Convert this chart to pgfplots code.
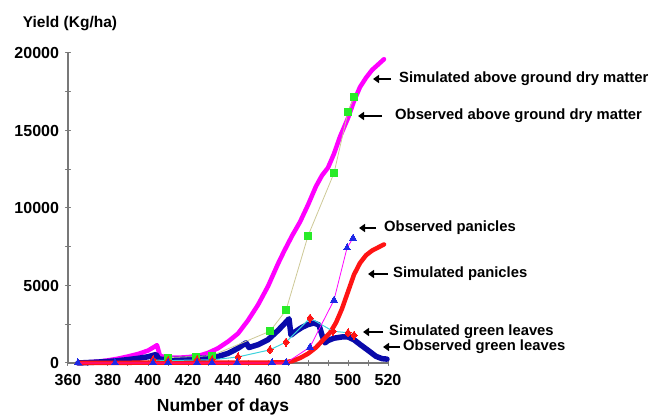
\documentclass[border=0pt]{standalone}
\usepackage{fontspec}
\setmainfont{Liberation Sans}
\usepackage{pgfplots}
\pgfplotsset{compat=1.18}
\usetikzlibrary{arrows.meta}

\definecolor{simdm}{RGB}{255,0,255}
\definecolor{obsdm}{RGB}{40,235,40}
\definecolor{tanline}{RGB}{205,200,150}
\definecolor{simleaf}{RGB}{10,10,170}
\definecolor{obspan}{RGB}{30,40,230}
\definecolor{simpan}{RGB}{255,20,20}
\definecolor{cyanline}{RGB}{60,210,220}
\definecolor{axgray}{RGB}{120,120,120}

\newcommand{\annot}{\bfseries\fontsize{14.8}{16}\selectfont}
\tikzset{lblarrow/.style={line width=2.4pt,-{Triangle[length=6pt,width=8pt]}}}

\begin{document}
\begin{tikzpicture}
\begin{axis}[
  at={(68pt,52pt)}, anchor=south west,
  scale only axis, width=320pt, height=310pt,
  xmin=360, xmax=520, ymin=0, ymax=20000,
  axis lines=left,
  axis line style={-, axgray, line width=1.3pt},
  xtick={360,380,...,520}, minor x tick num=1,
  ytick={0,5000,...,20000}, minor y tick num=1,
  tick align=center, major tick length=5pt, minor tick length=5pt,
  tick style={axgray, line width=1pt},
  scaled y ticks=false,
  /pgf/number format/assume math mode=true,
  /pgf/number format/set thousands separator={},
  tick label style={font=\bfseries\fontsize{16}{17}\selectfont},
  xticklabel style={yshift=-5pt},
  yticklabel style={xshift=-3pt},
  clip=false,
  line join=round, line cap=round,
]
% Simulated above ground dry matter
\addplot[simdm, line width=4.5pt, no marks] coordinates {
 (365,0) (370,40) (375,90) (380,170) (385,280) (390,420) (395,580) (400,800)
 (404.5,1150) (406,450) (410,350) (415,340) (420,380) (425,450) (430,650)
 (435,950) (440,1380) (445,1900) (450,2750) (455,3750) (460,4950) (465,6400)
 (468,7200) (472,8200) (476,9100) (480,10200) (484,11400) (487,12100)
 (490,12600) (493,13500) (496,14600) (500,15800) (503,16900) (506,17800)
 (509,18400) (512,18900) (515,19250) (518,19600)};
% Simulated green leaves
\addplot[simleaf, line width=5.5pt, no marks] coordinates {
 (365,0) (370,30) (375,60) (380,100) (385,150) (390,220) (395,300) (400,400)
 (404,550) (405.5,250) (410,220) (415,230) (420,260) (425,300) (430,330)
 (435,420) (440,620) (445,950) (449,1300) (450.5,1000) (455,1180) (460,1500)
 (465,2100) (468,2500) (470.5,2850) (471.5,1800) (474,2050) (477,2300)
 (480,2480) (483,2580) (485.5,2450) (487,1800) (488.5,1300) (490,1450)
 (493,1600) (497,1680) (500,1680) (503,1500) (506,1200) (510,820) (514,430)
 (517,280) (519.5,250)};
% Simulated panicles
\addplot[simpan, line width=4.5pt, no marks] coordinates {
 (365,0) (380,10) (400,20) (420,20) (440,20) (460,30) (468,40) (472,120)
 (476,320) (480,600) (484,1000) (488,1550) (491,1950) (494,2600) (497,3500)
 (500,4600) (503,5700) (506,6450) (509,6950) (512,7250) (515,7450) (518,7650)};
% Observed above ground dry matter
\addplot[tanline, line width=0.8pt, mark=square*,
  mark options={obsdm, draw=obsdm, line width=0pt}, mark size=3.3pt] coordinates {
 (410,350) (424,420) (432,480) (461,2050) (469,3400) (480,8200) (493,12250)
 (500,16200) (503,17150)};
% Observed green leaves
\addplot[cyanline, line width=1pt, mark=diamond*,
  mark options={simpan, draw=simpan, line width=0pt}, mark size=4pt] coordinates {
 (402.5,200) (410,150) (424.5,200) (432,200) (445,390) (461,850) (469,1350)
 (481,2900) (492.5,2050) (500,1950) (503,1800)};
% Observed panicles
\addplot[simdm, line width=0.8pt, mark=triangle*,
  mark options={obspan, draw=obspan, line width=0pt}, mark size=4pt] coordinates {
 (365,0) (383.5,0) (402.5,0) (410,0) (424.5,0) (432,0) (444.5,0) (462,0)
 (469,0) (481,1030) (493,4060) (499.5,7420) (502.5,8060)};
\end{axis}

\node[font=\bfseries\fontsize{15.5}{17}\selectfont] at (70pt,391pt) {Yield (Kg/ha)};
\node[font=\bfseries\fontsize{17.5}{19}\selectfont] at (223pt,8pt) {Number of days};

\draw[lblarrow] (391pt,336pt) -- (373pt,336pt);
\node[anchor=west, inner sep=0pt, font=\annot] at (399pt,336pt) {Simulated above ground dry matter};
\draw[lblarrow] (382pt,299pt) -- (358pt,299pt);
\node[anchor=west, inner sep=0pt, font=\annot] at (395pt,299pt) {Observed above ground dry matter};
\draw[lblarrow] (376pt,187pt) -- (359pt,187pt);
\node[anchor=west, inner sep=0pt, font=\annot] at (384pt,187pt) {Observed panicles};
\draw[lblarrow] (388pt,141pt) -- (368pt,141pt);
\node[anchor=west, inner sep=0pt, font=\annot] at (393pt,141pt) {Simulated panicles};
\draw[lblarrow] (383pt,83pt) -- (363pt,83pt);
\node[anchor=west, inner sep=0pt, font=\annot] at (389pt,83pt) {Simulated green leaves};
\draw[lblarrow] (400pt,68pt) -- (383pt,68pt);
\node[anchor=west, inner sep=0pt, font=\annot] at (403pt,68pt) {Observed green leaves};

\pgfresetboundingbox
\path[use as bounding box] (0pt,0pt) rectangle (649pt,415pt);
\end{tikzpicture}
\end{document}
